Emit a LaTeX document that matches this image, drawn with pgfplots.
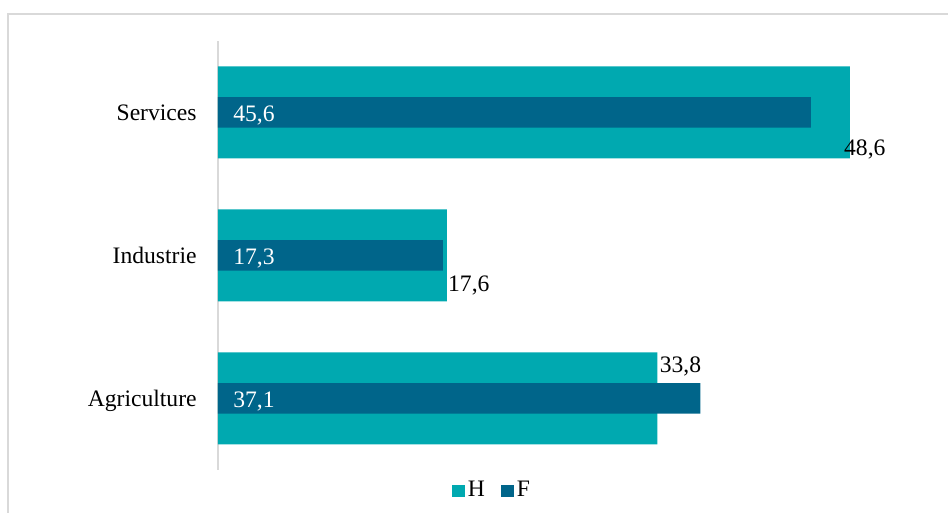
\documentclass[border=0pt]{standalone}
\usepackage{pgfplots}
\pgfplotsset{compat=1.18}
\usepackage{fontspec}
\setmainfont{Liberation Serif}
\definecolor{cH}{HTML}{00A9B0}
\definecolor{cF}{HTML}{00658A}
\definecolor{lgray}{HTML}{D9D9D9}
\pgfkeys{/pgf/number format/lbl/.style={use comma, fixed, fixed zerofill, precision=1, assume math mode=true}}
\begin{document}
\fontsize{11.8}{14}\selectfont
\begin{tikzpicture}
\begin{axis}[
  x=6.5pt, y=71.5pt,
  xmin=0, xmax=55, ymin=-0.5, ymax=2.5,
  axis x line=none,
  axis y line*=left,
  y axis line style={draw=lgray, line width=0.75pt},
  xtick=\empty,
  ytick={0,1,2},
  yticklabels={Agriculture,Industrie,Services},
  major tick length=0pt,
  yticklabel style={anchor=base east, inner sep=0pt, xshift=-10.5pt, yshift=-3.9pt},
  clip=false,
  legend style={at={(0.384,-0.049)}, anchor=center, draw=none, fill=none,
    legend columns=2, inner sep=0pt, nodes={inner sep=1.5pt},
    /tikz/every even column/.append style={column sep=6.5pt}},
]
\coordinate (O) at (axis cs:0,-0.5);
\addplot[xbar, bar width=46pt, bar shift=0pt, fill=cH, draw=none,
  legend image code/.code={\fill[cH] (0pt,-3.2pt) rectangle (6.4pt,3.2pt);}]
  coordinates {(33.8,0) (17.6,1) (48.6,2)};
\addlegendentry{H}
\addplot[xbar, bar width=15.25pt, bar shift=0pt, fill=cF, draw=none,
  legend image code/.code={\fill[cF] (0pt,-3.2pt) rectangle (6.4pt,3.2pt);}]
  coordinates {(37.1,0) (17.3,1) (45.6,2)};
\addlegendentry{F}
% H value labels
\addplot[draw=none, mark=none, forget plot, point meta=x,
  nodes near coords={\pgfmathprintnumber[lbl]{\pgfplotspointmeta}},
  every node near coord/.append style={anchor=base west, inner sep=0pt, xshift=-3pt, yshift=-21.5pt}]
  coordinates {(48.6,2)};
\addplot[draw=none, mark=none, forget plot, point meta=x,
  nodes near coords={\pgfmathprintnumber[lbl]{\pgfplotspointmeta}},
  every node near coord/.append style={anchor=base west, inner sep=0pt, xshift=0.5pt, yshift=-18pt}]
  coordinates {(17.6,1)};
\addplot[draw=none, mark=none, forget plot, point meta=x,
  nodes near coords={\pgfmathprintnumber[lbl]{\pgfplotspointmeta}},
  every node near coord/.append style={anchor=base west, inner sep=0pt, xshift=1pt, yshift=13pt}]
  coordinates {(33.8,0)};
% F value labels (inside base)
\addplot[draw=none, mark=none, forget plot, point meta=explicit,
  nodes near coords={\pgfmathprintnumber[lbl]{\pgfplotspointmeta}},
  every node near coord/.append style={anchor=base west, inner sep=0pt, xshift=7.5pt, yshift=-4.5pt, text=white}]
  coordinates {(0,0) [37.1] (0,1) [17.3] (0,2) [45.6]};
\end{axis}
\pgfresetboundingbox
\path[use as bounding box] ([shift={(-109pt,-21.5pt)}]O) rectangle ([shift={(365pt,235pt)}]O);
\draw[lgray, line width=1pt] ([shift={(-105pt,-22pt)}]O) -- ([shift={(-105pt,227.75pt)}]O) -- ([shift={(366pt,227.75pt)}]O);
\end{tikzpicture}
\end{document}
